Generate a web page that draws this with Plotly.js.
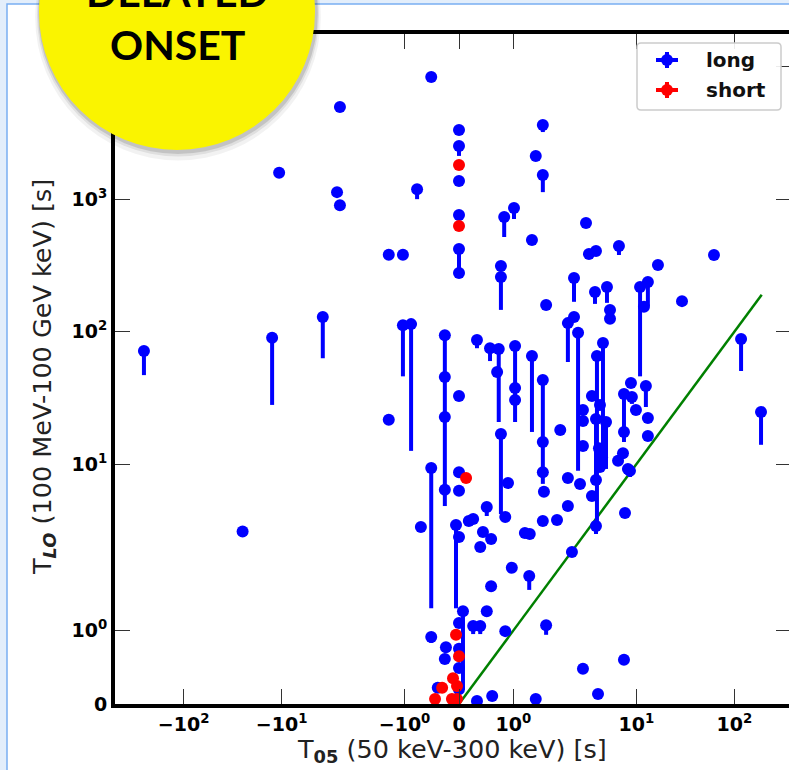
<!DOCTYPE html>
<html><head><meta charset="utf-8">
<script src="https://cdn.plot.ly/plotly-3.0.1.min.js"></script>
<style>html,body{margin:0;padding:0;overflow:hidden;background:#e3eefb;}#plot{width:800px;height:770px;}</style>
</head><body><div id="plot"></div>
<script>
// ---- data (T05 [s], TLO [s], lower end of TLO error bar or null) ----
const longT05 = [-254,-12.5,-3.8,-25,-10.6,-2.54,-2.72,-2.54,-1.29,-1.03,-1.29,-1.03,-0.88,-0.77,-0.51,0,0,0,0,0,0,1.54,1.41,1.54,1.01,0.83,3.06,1.34,3.28,3.87,6.64,61.9,16.6,0.77,0.77,2.31,3.78,5.01,5.38,5.38,10.9,13.1,11.95,29.2,1.6,2.0,2.31,2.54,-0.26,-0.26,-0.26,0.33,0.57,0.73,0.70,0.77,1.03,1.03,1.03,1.34,1.54,1.54,1.54,1.56,0,1.86,4.56,3.96,3.52,4.25,3.87,4.9,4.15,4.46,4.25,3.87,3.52,3.87,2.85,2.85,2.85,8.8,7.47,7.47,9.0,9.9,12.5,13.1,13.1,7.3,6.5,8.2,8.6,7.65,7.47,4.06,117,187,0.9,2.0,2.66,0.85,1.54,1.8,2.0,1.21,1.3,2.2,0.97,1.29,0.85,1.6,2.85,1.41,-0.51,-0.26,0,0,-0.7,-0.055,0,0.18,0.26,0.51,0.44,0.59,0.39,0.59,0.073,0.51,0.26,0.39,-0.51,0,-0.24,0,-0.26,0,0,-0.39,0.33,0.61];
const longTLO = [71.5,90,129,3.1,1580,4970,1130,900,380,380,21.6,112,114,1190,8360,3330,2520,1370,760,421,277,3630,2120,1520,858,734,661,492,386,406,443,379,319,313,259,254,199,217,146,125,217,237,154,170,159,116,129,98,94,45.5,22.7,86.5,75,74,49.6,16.9,78,37.6,30.5,65.6,43.2,14.7,8.7,6.2,32.7,18.1,82,65.6,32.7,28,21.9,20.8,13.2,11.3,9.5,7.6,5.75,3.42,25.6,21.2,13.7,41,33.9,17.5,32.1,25.6,38.9,22.3,16.3,12.1,10.6,9.2,8.9,4.28,0.6,0.136,88,24.8,7.2,7.87,7.08,4.0,3.73,3.79,4.83,3.02,2.97,2.17,1.85,1.74,0.99,1.07,0.48,0.068,9.35,6.4,8.7,6.3,3.36,3.48,2.82,3.73,3.86,4.75,3.08,2.72,2.37,1.6,1.26,1.26,1.06,1.06,0.91,1.1,0.77,0.75,0.61,0.49,0.2,0.22,0.04,0.11];
const longTLOlow = [47,28,63,null,null,null,null,null,null,null,null,46,12.6,1000,null,null,2120,null,null,277,null,3210,null,1130,708,518,null,null,null,null,379,null,null,null,146,168,162,165,null,null,46,156,null,null,null,59,null,8.9,22.7,null,6.5,75,60,20.8,null,4.2,20.8,null,null,17.5,8.7,null,7.1,null,null,null,9.2,3.4,null,null,7.7,9.2,null,9.2,null,null,null,2.97,null,null,null,null,17.5,14.7,28.5,null,27,null,null,null,null,null,8.0,null,null,null,50.5,14,null,null,null,null,null,null,null,null,null,null,null,1.55,null,0.94,null,null,1.3,4.83,null,null,null,1.3,null,null,null,4.06,null,null,null,null,0.2,null,0.95,0.95,0.83,null,null,null,null,null,null,null,null,null];
const shortT05 = [0,0,0.13,-0.055,0,-0.11,-0.037,-0.31,-0.44,-0.13,-0.037];
const shortTLO = [1811,627,7.87,0.94,0.65,0.35,0.245,0.22,0.068,0.068,0.068];
const lineT = [0, 190];
const xTickVals = [-100,-10,-1,0,1,10,100];
const xTickText = ['−10<sup>2</sup>','−10<sup>1</sup>','−10<sup>0</sup>','0','10<sup>0</sup>','10<sup>1</sup>','10<sup>2</sup>'];
const yTickVals = [0,1,10,100,1000,10000];
const yTickText = ['0','10<sup>0</sup>','10<sup>1</sup>','10<sup>2</sup>','10<sup>3</sup>','10<sup>4</sup>'];

// symlog transform (linthresh 2, linscale 1, base 10)
function S(v){const t=2,a=1/(1-1/10),av=Math.abs(v);return av<=t? v/t*a : Math.sign(v)*(a+Math.log10(av/t));}

// ---- layout geometry ----
const Lp=115,Rp=791,Tp=34,Bp=704,FW=800,FH=770;
const PW=Rp-Lp,PH=Bp-Tp;
const px=p=>(p-Lp)/PW, py=p=>(Bp-p)/PH;

const ly = longTLO.map(S);
const lyMinus = longTLO.map((v,i)=> longTLOlow[i]===null ? 0 : S(v)-S(longTLOlow[i]));
const traces = [
 {x:lineT.map(S), y:lineT.map(S), mode:'lines', line:{color:'#008000',width:2.5}, hoverinfo:'skip', showlegend:false},
 {x:longT05.map(S), y:ly, mode:'markers', name:'long', marker:{color:'#0000ff',size:12,line:{width:0}},
  error_y:{type:'data',symmetric:false,array:ly.map(()=>0),arrayminus:lyMinus,color:'#0000ff',thickness:4,width:0}, showlegend:false},
 {x:shortT05.map(S), y:shortTLO.map(S), mode:'markers', name:'short', marker:{color:'#ff0000',size:12,line:{width:0}}, showlegend:false}
];

const tickFont={family:'DejaVu Sans',size:19,color:'black',weight:'bold'};
const shapes=[
 {type:'rect',xref:'paper',yref:'paper',x0:px(7),x1:px(1000),y0:py(4),y1:py(1000),fillcolor:'#ffffff',line:{color:'#7aaef2',width:1.5},layer:'below'},
 {type:'path',xref:'paper',yref:'paper',layer:'above',fillcolor:'rgba(255,255,255,0.9)',line:{color:'#cccccc',width:1.5},
  path:`M ${px(641)} ${py(43)} L ${px(777)} ${py(43)} Q ${px(781)} ${py(43)} ${px(781)} ${py(47)} L ${px(781)} ${py(106)} Q ${px(781)} ${py(110)} ${px(777)} ${py(110)} L ${px(641)} ${py(110)} Q ${px(637)} ${py(110)} ${px(637)} ${py(106)} L ${px(637)} ${py(47)} Q ${px(637)} ${py(43)} ${px(641)} ${py(43)} Z`}
];
[['#0000ff',60],['#ff0000',90]].forEach(([c,yy])=>{
  shapes.push({type:'line',xref:'paper',yref:'paper',layer:'above',x0:px(667),x1:px(667),y0:py(yy-8),y1:py(yy+8),line:{color:c,width:4}});
  shapes.push({type:'line',xref:'paper',yref:'paper',layer:'above',x0:px(656),x1:px(678),y0:py(yy),y1:py(yy),line:{color:c,width:4}});
  shapes.push({type:'circle',xref:'paper',yref:'paper',layer:'above',xsizemode:'pixel',ysizemode:'pixel',xanchor:px(667),yanchor:py(yy),x0:-6,x1:6,y0:-6,y1:6,fillcolor:c,line:{width:0}});
});
[[8,'rgba(0,0,0,0.05)'],[5,'rgba(0,0,0,0.08)'],[3,'rgba(0,0,0,0.12)']].forEach(([d,c])=>{
  shapes.push({type:'circle',xref:'paper',yref:'paper',layer:'above',xsizemode:'pixel',ysizemode:'pixel',xanchor:px(178),yanchor:py(12+d*0.7),x0:-(138+d*0.6),x1:138+d*0.6,y0:-(138+d*0.6),y1:138+d*0.6,fillcolor:c,line:{width:0}});
});
shapes.push({type:'circle',xref:'paper',yref:'paper',layer:'above',xsizemode:'pixel',ysizemode:'pixel',xanchor:px(177),yanchor:py(12),x0:-138,x1:138,y0:-138,y1:138,fillcolor:'#faf400',line:{width:0}});

const annotations=[
 {xref:'paper',yref:'paper',x:px(452),y:py(750),xanchor:'center',yanchor:'middle',showarrow:false,
  text:'T<sub><b>05</b></sub> (50 keV-300 keV) [s]',font:{family:'DejaVu Sans',size:25.5,color:'#222'}},
 {xref:'paper',yref:'paper',x:px(43),y:py(377),xanchor:'center',yanchor:'middle',showarrow:false,textangle:-90,
  text:'T<sub><b><i>LO</i></b></sub> (100 MeV-100 GeV keV) [s]',font:{family:'DejaVu Sans',size:25.5,color:'#222'}},
 {xref:'paper',yref:'paper',x:px(704),y:py(60),xanchor:'left',yanchor:'middle',showarrow:false,text:'long',font:{family:'DejaVu Sans',size:20,color:'#111',weight:'bold'}},
 {xref:'paper',yref:'paper',x:px(704),y:py(90),xanchor:'left',yanchor:'middle',showarrow:false,text:'short',font:{family:'DejaVu Sans',size:20,color:'#111',weight:'bold'}},
 {xref:'paper',yref:'paper',x:px(177),y:py(44),xanchor:'center',yanchor:'middle',showarrow:false,text:'ONSET',font:{family:'Lato',size:41,color:'#000',weight:'bold'}},
 {xref:'paper',yref:'paper',x:px(177),y:py(-8),xanchor:'center',yanchor:'middle',showarrow:false,text:'DELAYED',font:{family:'Lato',size:41,color:'#000',weight:'bold'}}
];

const layout={
 width:FW,height:FH,margin:{l:Lp,r:FW-Rp,t:Tp,b:FH-Bp,pad:0},
 paper_bgcolor:'#e3eefb',plot_bgcolor:'rgba(0,0,0,0)',showlegend:false,
 xaxis:{range:[(Lp-459)/98,(Rp-459)/98],tickmode:'array',tickvals:xTickVals.map(S),ticktext:xTickText,
  ticks:'inside',ticklen:15,tickwidth:1,tickcolor:'#333',showline:true,linecolor:'black',linewidth:4,mirror:'ticks',
  showgrid:false,zeroline:false,tickfont:tickFont,fixedrange:true},
 yaxis:{range:[0,(Bp-Tp)/132.5],tickmode:'array',tickvals:yTickVals.map(S),ticktext:yTickText,
  ticks:'inside',ticklen:15,tickwidth:1,tickcolor:'#333',showline:true,linecolor:'black',linewidth:4,mirror:'ticks',
  showgrid:false,zeroline:false,tickfont:tickFont,fixedrange:true},
 shapes:shapes,annotations:annotations
};
Plotly.newPlot('plot',traces,layout,{displayModeBar:false,staticPlot:true});
</script></body></html>
